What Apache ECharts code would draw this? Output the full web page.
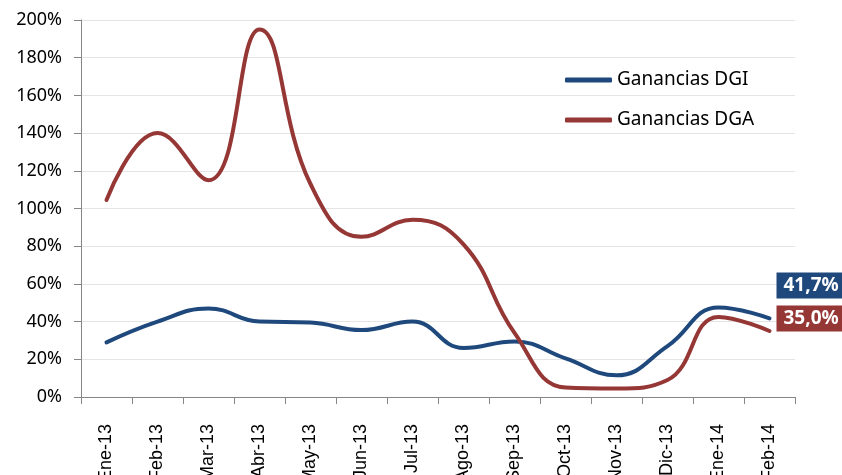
<!DOCTYPE html>
<html>
<head>
<meta charset="utf-8">
<script src="https://cdn.jsdelivr.net/npm/echarts@6/dist/echarts.min.js"></script>
<style>
  html, body { margin: 0; padding: 0; background: #fff; }
  #chart1 { width: 842px; height: 475px; }
</style>
</head>
<body>
<div id="chart1"></div>
<script>
// datos
var months = ['Ene-13', 'Feb-13', 'Mar-13', 'Abr-13', 'May-13', 'Jun-13', 'Jul-13',
  'Ago-13', 'Sep-13', 'Oct-13', 'Nov-13', 'Dic-13', 'Ene-14', 'Feb-14']
var dgi = [29, 40, 47, 40, 39.5, 35.5, 40, 26, 29.5, 20.5, 11.5, 27, 47.5, 41.7]
var dga = [104.5, 140, 115, 195, 113, 85, 94, 81, 34, 5, 4.5, 9, 42.5, 35]
var yTicks = [0, 20, 40, 60, 80, 100, 120, 140, 160, 180, 200]

var BLUE = '#1F497D'
var RED = '#953735'

function fmt (v) {
  return v.toFixed(1).replace('.', ',') + '%'
}

function endLabel (color, offsetY) {
  return {
    show: true,
    distance: 7,
    offset: [0, offsetY],
    formatter: function (p) { return fmt(p.value) },
    color: '#fff',
    fontWeight: 'bold',
    fontSize: 19,
    fontFamily: 'Noto Sans',
    lineHeight: 20,
    backgroundColor: color,
    padding: [3, 10, 3, 7]
  }
}

var charts = echarts.init(document.getElementById('chart1'))
var option = {
  animation: false,
  backgroundColor: '#fff',
  grid: { left: 81, right: 47, top: 20, bottom: 78, outerBoundsMode: 'none', containLabel: false },
  legend: {
    orient: 'vertical',
    left: 560,
    top: 65,
    itemWidth: 47,
    itemHeight: 5,
    itemGap: 20,
    icon: 'roundRect',
    textStyle: { fontFamily: 'Noto Sans', fontSize: 19, color: '#000', lineHeight: 20 },
    data: ['Ganancias DGI', 'Ganancias DGA']
  },
  xAxis: {
    type: 'category',
    data: months,
    boundaryGap: true,
    axisLine: { lineStyle: { color: '#868686', width: 1 } },
    axisTick: { show: true, length: 7, lineStyle: { color: '#868686' } },
    axisLabel: {
      interval: 0,
      rotate: 90,
      margin: 27,
      fontFamily: 'Liberation Sans',
      fontSize: 18,
      color: '#000'
    }
  },
  yAxis: {
    type: 'value',
    min: yTicks[0],
    max: yTicks[yTicks.length - 1],
    interval: yTicks[1] - yTicks[0],
    axisLine: { show: true, lineStyle: { color: '#868686', width: 1 } },
    axisTick: { show: true, length: 7, lineStyle: { color: '#868686' } },
    splitLine: { lineStyle: { color: '#e4e4e4', width: 1 } },
    axisLabel: {
      formatter: '{value}%',
      margin: 19,
      fontFamily: 'Noto Sans',
      fontSize: 18,
      color: '#000'
    }
  },
  series: [
    {
      name: 'Ganancias DGI',
      type: 'line',
      smooth: 0.45,
      symbol: 'none',
      color: BLUE,
      lineStyle: { width: 4, color: BLUE, cap: 'round' },
      endLabel: endLabel(BLUE, -33),
      data: dgi
    },
    {
      name: 'Ganancias DGA',
      type: 'line',
      smooth: 0.45,
      symbol: 'none',
      color: RED,
      lineStyle: { width: 4, color: RED, cap: 'round' },
      endLabel: endLabel(RED, -12.5),
      data: dga
    }
  ]
}
charts.setOption(option)
window.addEventListener('resize', function () {
  charts.resize()
})
</script>
</body>
</html>
